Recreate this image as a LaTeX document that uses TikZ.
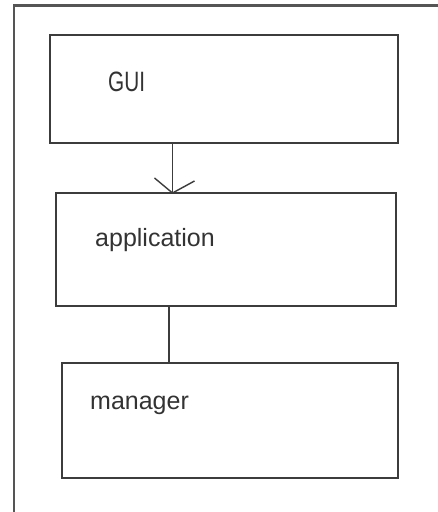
\documentclass[tikz,border=0pt]{standalone}
\usepackage{fontspec}
\usepackage{graphicx}
\setmainfont{Liberation Sans}
\definecolor{linec}{HTML}{3C3C3C}
\definecolor{framec}{HTML}{555555}
\definecolor{textc}{HTML}{333333}
\begin{document}
\begin{tikzpicture}[x=1pt,y=1pt,
  box/.style={draw=linec,line width=2pt,minimum width=#1,inner sep=0pt,outer sep=0pt},
  lbl/.style={anchor=base west,inner sep=0pt,text=textc,font=\fontsize{25}{30}\selectfont},
  conn/.style={draw=linec,line width=1.8pt}]
\useasboundingbox (0,0) rectangle (437,512);
\fill[white] (0,0) rectangle (437,512);
% outer frame (right and bottom sides lie beyond the picture)
\draw[framec,line width=2.2pt] (445,506.5) -- (14,506.5) -- (14,-10);
% boxes
\node[box=348pt,minimum height=108pt] (gui) at (224,423) {};
\node[box=340pt,minimum height=113pt] (app) at (226,262.5) {};
\node[box=336pt,minimum height=115pt] (mgr) at (230,91.5) {};
% texts
\node[lbl] (guit) at (108,420) {\scalebox{0.83}[1.12]{GUI}};
\node[lbl] (appt) at (95,265) {application};
\node[lbl] (mgrt) at (90,102) {manager};
% connectors
\coordinate (c1) at (172.5,0);
\coordinate (c2) at (169,0);
\coordinate (tip) at (app.north -| c1);
\draw[conn] (gui.south -| c1) -- (tip);
\draw[conn,line width=1.4pt] (tip) -- ++(-18,15);
\draw[conn,line width=1.4pt] (tip) -- ++(22,12);
\draw[conn] (app.south -| c2) -- (mgr.north -| c2);
\end{tikzpicture}
\end{document}
